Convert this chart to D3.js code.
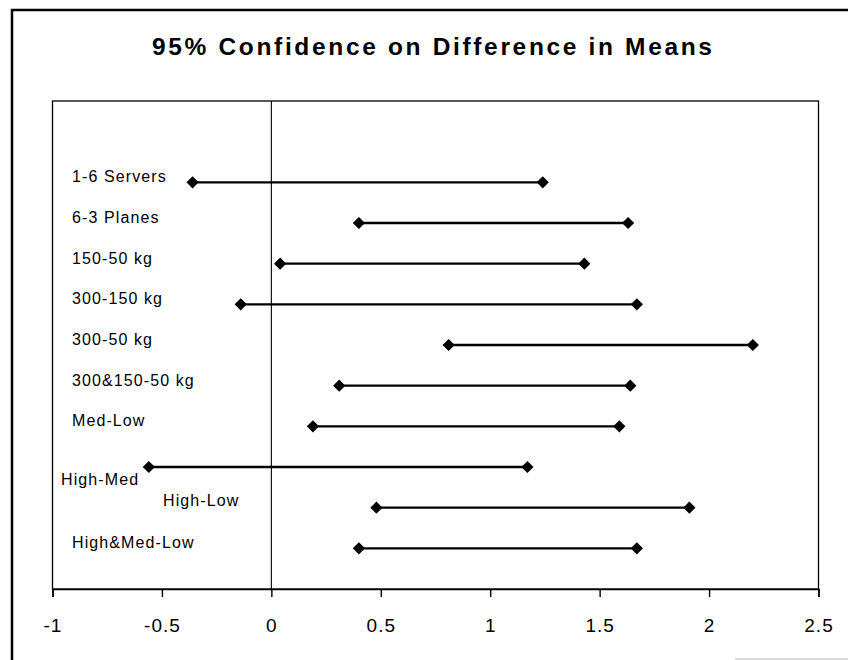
<!DOCTYPE html>
<html>
<head>
<meta charset="utf-8">
<script src="https://cdn.jsdelivr.net/npm/d3@7"></script>
<style>
  body { margin: 0; background: #fff; }
  svg { display: block; font-family: "Liberation Sans", Arial, sans-serif; }
</style>
</head>
<body>
<div id="chart"></div>
<script>
// comparisons, top to bottom
const categories = ["1-6 Servers", "6-3 Planes", "150-50 kg", "300-150 kg", "300-50 kg",
                    "300&150-50 kg", "Med-Low", "High-Med", "High-Low", "High&Med-Low"];
const rowValues = [10, 9, 8, 7, 6, 5, 4, 3, 2, 1];
const lowerBound = [-0.36, 0.40, 0.04, -0.14, 0.81, 0.31, 0.19, -0.56, 0.48, 0.40];
const upperBound = [1.24, 1.63, 1.43, 1.67, 2.20, 1.64, 1.59, 1.17, 1.91, 1.67];
const xTicks = [-1, -0.5, 0, 0.5, 1, 1.5, 2, 2.5];

const width = 848, height = 660;
const plot = { left: 52.5, right: 818.5, top: 101, bottom: 589 };

const svg = d3.select("#chart").append("svg")
    .attr("width", width)
    .attr("height", height);

// outer chart frame (runs off the right and bottom edges)
svg.append("rect")
    .attr("x", 12).attr("y", 10)
    .attr("width", 900).attr("height", 700)
    .attr("fill", "none")
    .attr("stroke", "#000")
    .attr("stroke-width", 2.5);

svg.append("line")
    .attr("x1", 735).attr("x2", 848).attr("y1", 659).attr("y2", 659)
    .attr("stroke", "#d0d0d0").attr("stroke-width", 1.5);

svg.append("text")
    .attr("x", 432).attr("y", 55)
    .attr("text-anchor", "middle")
    .attr("font-weight", "bold")
    .attr("font-size", 24.5)
    .attr("textLength", 560)
    .attr("lengthAdjust", "spacing")
    .text("95% Confidence on Difference in Means");

const x = d3.scaleLinear().domain([-1, 2.5]).range([plot.left, plot.right]);
const y = d3.scaleLinear().domain([0, 12]).range([plot.bottom, plot.top]);

// plot area box
svg.append("rect")
    .attr("x", plot.left).attr("y", plot.top)
    .attr("width", plot.right - plot.left)
    .attr("height", plot.bottom - plot.top)
    .attr("fill", "none")
    .attr("stroke", "#000")
    .attr("stroke-width", 1.3);

// vertical line at zero
svg.append("line")
    .attr("x1", x(0)).attr("x2", x(0))
    .attr("y1", plot.top).attr("y2", plot.bottom)
    .attr("stroke", "#000")
    .attr("stroke-width", 1.1);

const xAxis = svg.append("g")
    .attr("transform", `translate(0,${plot.bottom})`)
    .call(d3.axisBottom(x).tickValues(xTicks).tickSize(8).tickPadding(22)
        .tickFormat(d => String(d)));
xAxis.select(".domain").attr("stroke-width", 1.6);
xAxis.selectAll(".tick line").attr("stroke-width", 1.4);
xAxis.selectAll("text")
    .attr("font-size", 19)
    .attr("font-family", "\"Liberation Sans\", Arial, sans-serif")
    .attr("letter-spacing", 1)
    .attr("fill", "#000");

const rows = categories.map((name, i) => ({
  name, row: rowValues[i], lo: lowerBound[i], hi: upperBound[i]
}));

svg.selectAll(".range")
    .data(rows)
    .join("line")
    .attr("class", "range")
    .attr("x1", d => x(d.lo)).attr("x2", d => x(d.hi))
    .attr("y1", d => y(d.row)).attr("y2", d => y(d.row))
    .attr("stroke", "#000")
    .attr("stroke-width", 2.4);

const diamond = d3.symbol().type(d3.symbolDiamond2).size(95);
const ends = rows.flatMap(d => [{ v: d.lo, row: d.row }, { v: d.hi, row: d.row }]);
svg.selectAll(".end")
    .data(ends)
    .join("path")
    .attr("class", "end")
    .attr("d", diamond)
    .attr("transform", d => `translate(${x(d.v)},${y(d.row)})`)
    .attr("fill", "#000");

// data labels sit at the left; two were dragged off in the original
const nudge = { "High-Med": [-11, 18], "High-Low": [91, -2] };
svg.selectAll(".cat")
    .data(rows)
    .join("text")
    .attr("class", "cat")
    .attr("x", d => 72 + (nudge[d.name] ? nudge[d.name][0] : 0))
    .attr("y", d => y(d.row) + (nudge[d.name] ? nudge[d.name][1] : 0))
    .attr("font-size", 16)
    .attr("letter-spacing", 1.1)
    .attr("fill", "#000")
    .text(d => d.name);
</script>
</body>
</html>
